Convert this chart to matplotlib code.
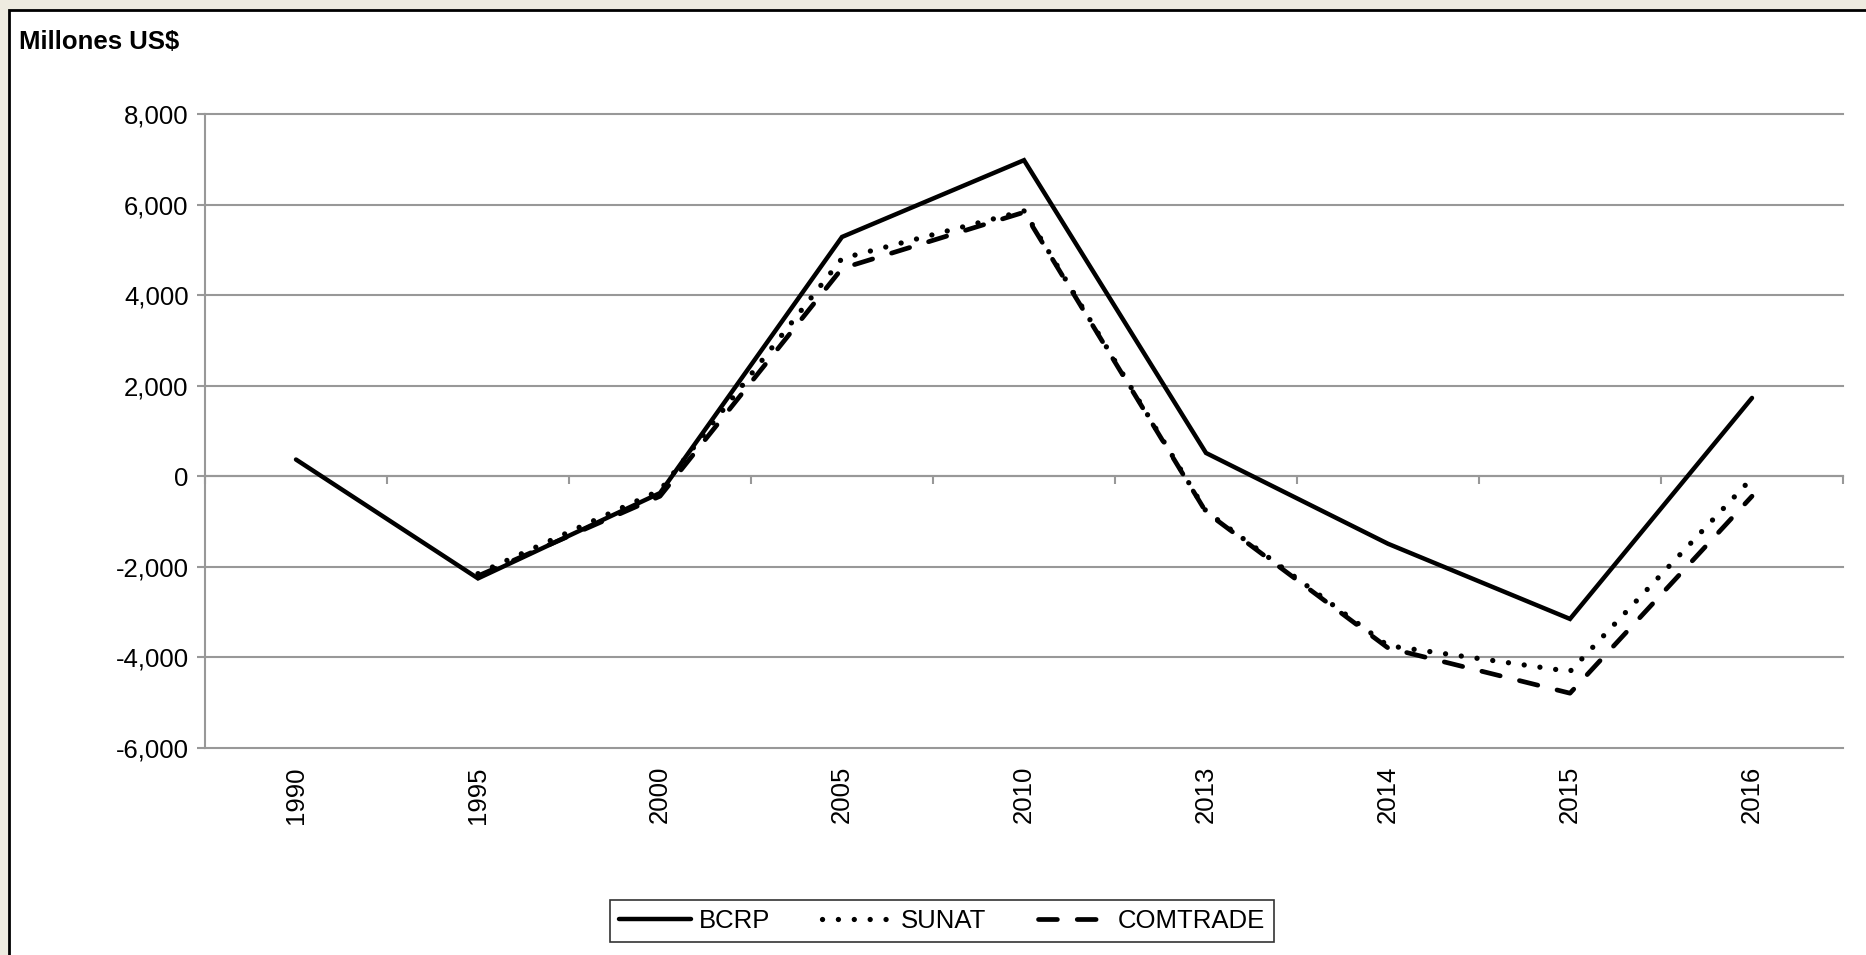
import numpy as np
import matplotlib
matplotlib.use("Agg")
import matplotlib.pyplot as plt
from matplotlib.patches import Rectangle
from matplotlib.ticker import FuncFormatter

plt.rcParams['font.family'] = ['Liberation Sans', 'DejaVu Sans']

# data (millones US$)
years = ['1990', '1995', '2000', '2005', '2010', '2013', '2014', '2015', '2016']
bcrp = [370, -2255, -370, 5285, 6980, 515, -1490, -3150, 1730]
sunat = [np.nan, -2150, -310, 4810, 5860, -770, -3740, -4310, -40]
comtrade = [np.nan, -2200, -440, 4590, 5830, -790, -3790, -4790, -440]

W, H = 1866, 955
fig = plt.figure(figsize=(W / 100, H / 100), dpi=100)
fig.patch.set_facecolor('#EEEBE0')

# white chart panel with black frame (runs off right/bottom edge)
fig.patches.append(Rectangle((8.7 / W, -0.05), 1.2, (H - 10.3) / H + 0.05,
                             transform=fig.transFigure, facecolor='white',
                             edgecolor='black', linewidth=2.0, zorder=-5))

ax = fig.add_axes([205 / W, 1 - 748 / H, (1843 - 205) / W, (748 - 114) / H])
ax.set_facecolor('none')

x = np.arange(len(years))
grey = '#989898'

ax.plot(x, sunat, color='black', lw=3.8, linestyle=(0, (0.01, 3.0)),
        dash_capstyle='round', solid_capstyle='round', label='SUNAT', zorder=3)
ax.plot(x, comtrade, color='black', lw=3.4, linestyle=(0, (4.0, 4.2)),
        dash_capstyle='round', label='COMTRADE', zorder=3)
ax.plot(x, bcrp, color='black', lw=3.2, solid_capstyle='round',
        solid_joinstyle='miter', label='BCRP', zorder=4)

ax.set_xlim(-0.5, len(years) - 0.5)
ax.set_ylim(-6000, 8000)
ax.set_yticks(np.arange(-6000, 8001, 2000))
ax.yaxis.set_major_formatter(FuncFormatter(lambda v, p: '{:,.0f}'.format(v)))
ax.grid(axis='y', color=grey, lw=1.5, clip_on=False)
ax.set_axisbelow(True)

for s in ['top', 'right']:
    ax.spines[s].set_visible(False)
ax.spines['left'].set_color(grey)
ax.spines['left'].set_linewidth(1.5)
ax.spines['bottom'].set_position(('data', 0))
ax.spines['bottom'].set_color(grey)
ax.spines['bottom'].set_linewidth(1.5)

ax.tick_params(axis='y', colors=grey, labelcolor='black', length=5.8, width=1.5,
               pad=6, labelsize=18.5)
ax.set_xticks(np.arange(-0.5, len(years), 1.0))
ax.tick_params(axis='x', colors=grey, length=5.8, width=1.5, labelbottom=False)

# category labels at the bottom of the plot
sec = ax.secondary_xaxis(0)
sec.set_xticks(x, labels=years)
sec.tick_params(length=0, pad=13, labelsize=18.5, rotation=90)
sec.spines['bottom'].set_visible(False)

fig.text(19 / W, 1 - 42 / H, 'Millones US$', fontsize=18.5, fontweight='bold',
         ha='left', va='center')

h, l = ax.get_legend_handles_labels()
order = [2, 0, 1]
leg = fig.legend([h[i] for i in order], [l[i] for i in order], ncol=3,
                 loc='center', bbox_to_anchor=(942 / W, 1 - 921 / H),
                 fontsize=18.5, frameon=True, fancybox=False, handlelength=2.8,
                 handletextpad=0.3, columnspacing=2.0, borderpad=0.35,
                 borderaxespad=0)
leg.get_frame().set_edgecolor('black')
leg.get_frame().set_linewidth(1.2)

fig.savefig('out.png', dpi=100, facecolor=fig.get_facecolor())
